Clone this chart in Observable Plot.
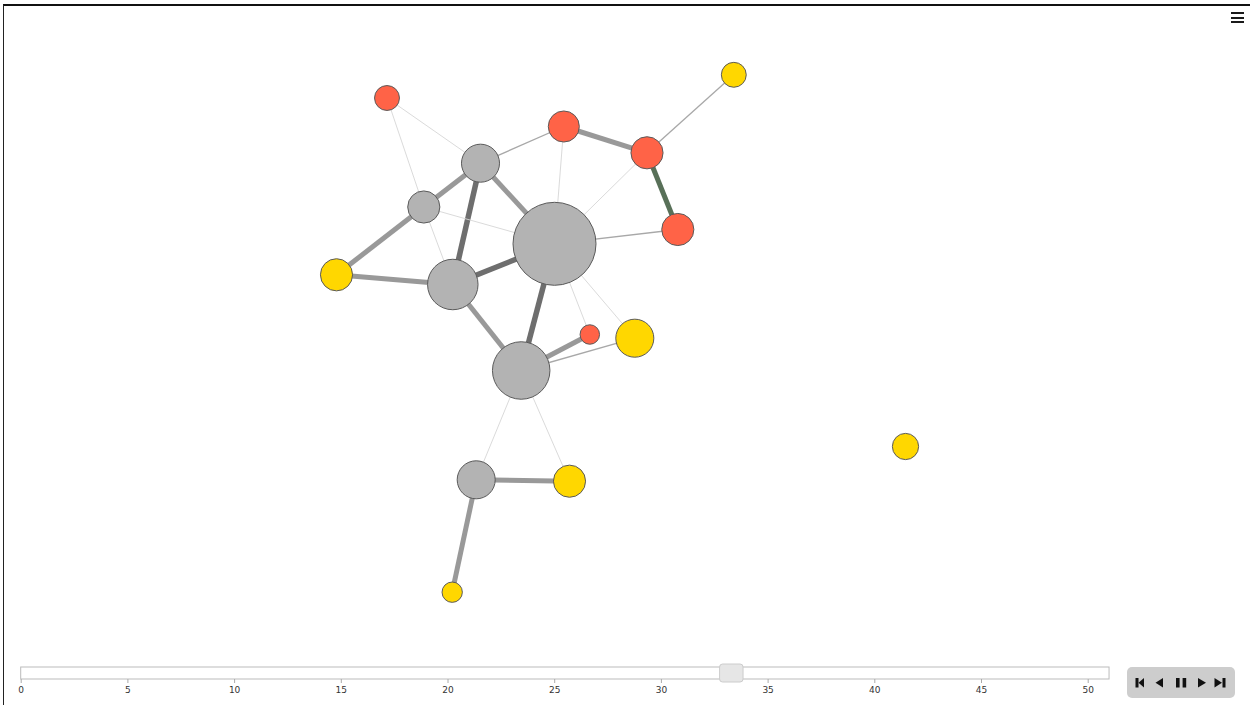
<!DOCTYPE html>
<html>
<head>
<meta charset="utf-8">
<script src="https://cdn.jsdelivr.net/npm/d3@7"></script>
<script src="https://cdn.jsdelivr.net/npm/@observablehq/plot@0.6"></script>
<style>
  html, body { margin: 0; padding: 0; background: #fff; }
  #wrap { position: relative; width: 1250px; height: 705px; overflow: hidden; font-family: "DejaVu Sans", Verdana, sans-serif; }
  #frame { position: absolute; left: 3px; top: 4px; width: 1260px; height: 720px; border-top: 2px solid #111; border-left: 1.5px solid #222; box-sizing: border-box; }
  #net { position: absolute; left: 0; top: 0; }
  #slider { position: absolute; left: 0; top: 650px; }
  #menu { position: absolute; left: 1231px; top: 12px; width: 13px; }
  #menu div { height: 2px; background: #1a1a1a; margin-bottom: 2.5px; }
  #controls { position: absolute; left: 1127px; top: 667px; width: 108px; height: 31px; background: #cdcdcd; border-radius: 5px; }
</style>
</head>
<body>
<div id="wrap">
  <div id="frame"></div>
  <div id="net"></div>
  <div id="slider"></div>
  <div id="menu"><div></div><div></div><div></div></div>
  <div id="controls">
    <svg width="108" height="31">
      <g fill="#111">
        <rect x="8.5" y="11" width="3" height="9.5"/>
        <path d="M11.5,15.75 L17,11 L17,20.5 Z"/>
        <path d="M28.5,15.75 L36,11 L36,20.5 Z"/>
        <rect x="49" y="11" width="3.6" height="9.5"/>
        <rect x="55.6" y="11" width="3.6" height="9.5"/>
        <path d="M79,15.75 L71,11 L71,20.5 Z"/>
        <path d="M95,15.75 L87.5,11 L87.5,20.5 Z"/>
        <rect x="95.5" y="11" width="3" height="9.5"/>
      </g>
    </svg>
  </div>
</div>
<script>
// ---- Network data (layout coordinates) ----
const nodeIds    = ["n1","n2","n3","n4","n5","n6","n7","n8","n9","n10","n11","n12","n13","n14","n15","n16","n17"];
const nodeGroups = ["B","C","B","B","A","A","A","B","C","A","B","C","A","A","C","C","C"];
const nodeX      = [386.5,733.3,563.3,646.5,480,423.3,554,677.3,336,452.3,589.3,634.3,520.7,475.7,569,451.7,905];
const nodeY      = [97.5,74.3,126,152.3,162.7,206.5,243.3,229,274.3,284,334,337.7,370,479.3,480.7,591.7,446];
const nodeSize   = [9,9,14,15,21,15,100,15,15,37,5.5,21,48,21,15,6,10];

const edgeSource = ["n1","n1","n5","n3","n4","n4","n3","n4","n7","n5","n5","n5","n6","n6","n6","n9","n10","n10","n7","n7","n7","n13","n13","n13","n13","n14","n14"];
const edgeTarget = ["n5","n6","n3","n4","n2","n8","n7","n7","n8","n6","n7","n10","n7","n9","n10","n10","n7","n13","n13","n11","n12","n11","n12","n14","n15","n15","n16"];
const edgeWeight = [1,1,2,5,2,6,1,1,2,5,5,8,1,5,1,5,8,5,8,1,1,5,2,1,1,5,5];
const edgeKind   = ["n","n","n","n","n","h","n","n","n","n","n","n","n","n","n","n","n","n","n","n","n","n","n","n","n","n","n"];

// ---- Timeline slider ----
const sliderTicks = [0,5,10,15,20,25,30,35,40,45,50];
const sliderMax = 51;
const sliderValue = 33.3;

const groupColor = {A: "#b3b3b3", B: "#ff6347", C: "#ffd700"};

const nodes = nodeIds.map((id, i) => ({id, group: nodeGroups[i], x: nodeX[i], y: nodeY[i], size: nodeSize[i]}));
const byId = new Map(nodes.map(d => [d.id, d]));
const edges = edgeSource.map((s, i) => ({source: byId.get(s), target: byId.get(edgeTarget[i]), w: edgeWeight[i], kind: edgeKind[i]}));

function edgeColor(d) {
  if (d.kind === "h") return "#587058";
  if (d.w >= 8) return "#6e6e6e";
  if (d.w >= 5) return "#999999";
  if (d.w >= 2) return "#a8a8a8";
  return "#d6d6d6";
}
function edgeWidth(d) {
  if (d.kind === "h") return 5;
  if (d.w >= 8) return 5.5;
  if (d.w >= 5) return 5;
  if (d.w >= 2) return 1.3;
  return 0.9;
}

const net = Plot.plot({
  width: 1250,
  height: 660,
  margin: 0,
  x: {domain: [0, 1250], range: [0, 1250], axis: null},
  y: {domain: [0, 660], range: [0, 660], axis: null},
  r: {type: "sqrt", domain: [0, 100], range: [0, 41.5]},
  color: {type: "identity"},
  marks: [
    Plot.link(edges, {
      x1: d => d.source.x, y1: d => d.source.y,
      x2: d => d.target.x, y2: d => d.target.y,
      stroke: edgeColor,
      strokeWidth: edgeWidth,
      strokeLinecap: "butt"
    }),
    Plot.dot(nodes, {
      x: "x", y: "y", r: "size",
      fill: d => groupColor[d.group],
      stroke: "#5a5a5a",
      strokeWidth: 1,
      fillOpacity: 1
    })
  ]
});
document.getElementById("net").appendChild(net);

const slider = Plot.plot({
  width: 1250,
  height: 55,
  marginBottom: 26,
  marginTop: 0,
  x: {domain: [0, 50], range: [20.7, 1087.7]},
  y: {domain: [0, 1], range: [29, 17], axis: null},
  style: {fontFamily: "DejaVu Sans, Verdana, sans-serif", fontSize: "9px", color: "#333"},
  marks: [
    Plot.rect([{x1: 0, x2: sliderMax}], {x1: "x1", x2: "x2", y1: 0, y2: 1, fill: "#fff", stroke: "#bbbbbb", strokeWidth: 1}),
    Plot.axisX({ticks: sliderTicks, tickSize: 4, tickPadding: 3, stroke: "#aaaaaa", label: null, tickFormat: d => String(d), fill: "#333"}),
    Plot.rect([{v: sliderValue}], {x1: d => d.v - 0.55, x2: d => d.v + 0.55, y1: -0.25, y2: 1.25, fill: "#e6e6e6", stroke: "#cccccc", rx: 3})
  ]
});
document.getElementById("slider").appendChild(slider);
</script>
</body>
</html>
